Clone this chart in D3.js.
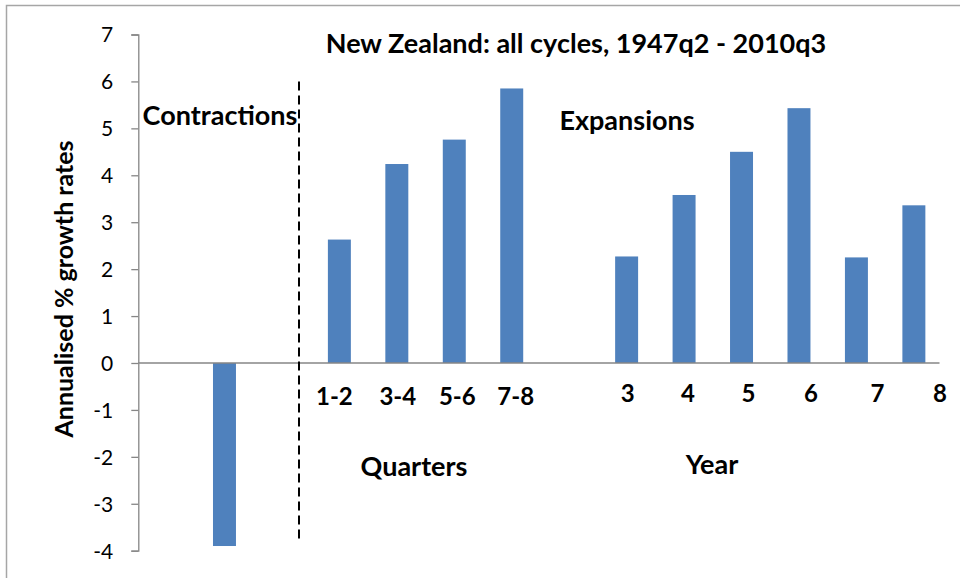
<!DOCTYPE html>
<html>
<head>
<meta charset="utf-8">
<script src="https://cdn.jsdelivr.net/npm/d3@7"></script>
<style>
  html, body { margin: 0; padding: 0; background: #fff; }
  svg text { font-family: Lato, "Open Sans", sans-serif; }
</style>
</head>
<body>
<svg id="chart" width="960" height="578"></svg>
<script>
// ---- data ----
const categories = ["s0", "Contraction", "s2", "1-2", "3-4", "5-6", "7-8", "s7", "3", "4", "5", "6", "7", "8"];
const values = [null, -3.9, null, 2.63, 4.24, 4.76, 5.85, null, 2.27, 3.58, 4.50, 5.43, 2.25, 3.36];
const tickLabels = ["", "", "", "1-2", "3-4", "5-6", "7-8", "", "3", "4", "5", "6", "7", "8"];
const yTicks = [-4, -3, -2, -1, 0, 1, 2, 3, 4, 5, 6, 7];
const titleText = "New Zealand: all cycles, 1947q2 - 2010q3";
const yAxisTitle = "Annualised % growth rates";

(function () {
// ---- layout ----
const svg = d3.select("#chart");
const pLeft = 138.3, pRight = 942.6, pTop = 34.5, pBottom = 550.7;
// per-label horizontal nudges (layout only)
const labelDx = [0, 0, 0, -5, 1, 3, 4, 0, 1, 4, 7, 12, 21, 26];
const labelY = [0, 0, 0, 397, 397, 397, 397, 0, 394, 394, 394, 394, 394, 394];

const x = d3.scaleBand().domain(categories).range([pLeft, pRight]).padding(0);
const y = d3.scaleLinear().domain([-4, 7]).range([pBottom, pTop]);

// outer frame
svg.append("rect").attr("x", 6.5).attr("y", 5.5).attr("width", 1000).attr("height", 1000)
  .attr("fill", "none").attr("stroke", "#a6a6a6").attr("stroke-width", 1.5);

// bars
const barW = x.bandwidth() * 0.4;
svg.append("g").selectAll("rect")
  .data(categories.map((c, i) => ({ c, v: values[i] })).filter(d => d.v !== null))
  .join("rect")
  .attr("x", d => x(d.c) + (x.bandwidth() - barW) / 2)
  .attr("width", barW)
  .attr("y", d => y(Math.max(0, d.v)))
  .attr("height", d => Math.abs(y(d.v) - y(0)))
  .attr("fill", "#4F81BD");

// y axis
const yAxis = d3.axisLeft(y).tickValues(yTicks).tickSize(7).tickPadding(18).tickFormat(d => String(d));
const gy = svg.append("g").attr("transform", `translate(${pLeft},0)`).call(yAxis);
gy.select(".domain").attr("stroke", "#868686").attr("stroke-width", 1.3);
gy.selectAll(".tick line").attr("stroke", "#868686").attr("stroke-width", 1.3);
gy.selectAll(".tick text").attr("font-size", 21).attr("fill", "#000")
  .style("font-family", "Lato, sans-serif").attr("dy", "0.35em");

// zero line
svg.append("line").attr("x1", pLeft).attr("x2", 939.5).attr("y1", y(0)).attr("y2", y(0))
  .attr("stroke", "#868686").attr("stroke-width", 1.3);

// category labels
svg.append("g").selectAll("text")
  .data(categories.map((c, i) => ({ c, i, t: tickLabels[i] })).filter(d => d.t !== ""))
  .join("text")
  .attr("x", d => x(d.c) + x.bandwidth() / 2 + labelDx[d.i])
  .attr("y", d => labelY[d.i])
  .attr("dy", "0.35em")
  .attr("text-anchor", "middle")
  .attr("font-size", 24).attr("font-weight", "bold").attr("fill", "#000")
  .text(d => d.t);

// dashed separator
svg.append("line").attr("x1", 299).attr("x2", 299).attr("y1", y(6)).attr("y2", 539)
  .attr("stroke", "#000").attr("stroke-width", 2).attr("stroke-dasharray", "9,5");

// texts
const big = 27;
svg.append("text").attr("x", 576).attr("y", 44).attr("dy", "0.35em").attr("text-anchor", "middle")
  .attr("font-size", big).attr("font-weight", "bold").text(titleText);
svg.append("text").attr("x", 220).attr("y", 116).attr("dy", "0.35em").attr("text-anchor", "middle")
  .attr("font-size", big).attr("font-weight", "bold").text("Contractions");
svg.append("text").attr("x", 627).attr("y", 121).attr("dy", "0.35em").attr("text-anchor", "middle")
  .attr("font-size", big).attr("font-weight", "bold").text("Expansions");
svg.append("text").attr("x", 414).attr("y", 467).attr("dy", "0.35em").attr("text-anchor", "middle")
  .attr("font-size", big).attr("font-weight", "bold").text("Quarters");
svg.append("text").attr("x", 712).attr("y", 465).attr("dy", "0.35em").attr("text-anchor", "middle")
  .attr("font-size", big).attr("font-weight", "bold").text("Year");
svg.append("text").attr("transform", "translate(64,289) rotate(-90)").attr("dy", "0.35em")
  .attr("text-anchor", "middle").attr("font-size", 25).attr("font-weight", "bold").text(yAxisTitle);
})();
</script>
</body>
</html>
